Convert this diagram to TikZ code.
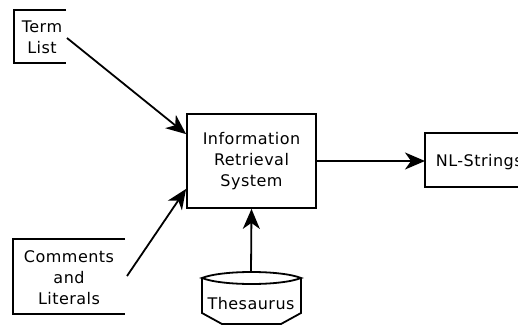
\documentclass[tikz,border=0pt]{standalone}
\usepackage{fontspec}
\setmainfont{DejaVu Sans}[LetterSpace=3]
\usetikzlibrary{arrows.meta}
\begin{document}
\begin{tikzpicture}[x=1pt,y=-1pt,line width=1.8pt,
  lbl/.style={font=\fontsize{16}{21}\selectfont, align=center, inner sep=0pt},
  box/.style={draw, rectangle, lbl},
  arr/.style={-{Stealth[length=20pt,width=17pt,inset=6pt]}}]
\useasboundingbox (0,0) rectangle (518,326);

% Information Retrieval System
\node[box, minimum width=129pt, minimum height=94pt] (irs) at (251.5,161) {Information\\Retrieval\\System};

% Term List (open on the right)
\draw (66,10) -- (14,10) -- (14,63) -- (66,63);
\node[lbl] (term) at (42,37) {Term\\List};
\coordinate (termout) at (67,38);

% Comments and Literals (open on the right)
\draw (125,239) -- (13,239) -- (13,314) -- (125,314);
\node[lbl] (comm) at (69,278) {Comments\\and\\Literals};
\coordinate (commout) at (127,276);

% NL-Strings (cut at the right edge)
\draw (520,133) -- (425,133) -- (425,187) -- (520,187);
\node[lbl, anchor=base west] (nl) at (435,166.5) {NL-Strings};
\coordinate (nlin) at (425,161);

% Thesaurus drum
\draw (202,278) .. controls (222,270) and (281,270) .. (301,278)
      .. controls (281,286) and (222,286) .. (202,278) -- cycle;
\draw (202,278) -- (202,313) -- (222,324) -- (281,324) -- (301,313) -- (301,278);
\node[lbl] (thes) at (251,304) {Thesaurus};
\coordinate (thestop) at (251,272);

% connectors
\draw[arr] (termout) -- ([yshift=-21pt]irs.north west);
\draw[arr] (commout) -- ([yshift=20pt]irs.south west);
\draw[arr] (thestop) -- (irs.south);
\draw[arr] (irs.east) -- (nlin);
\end{tikzpicture}
\end{document}
